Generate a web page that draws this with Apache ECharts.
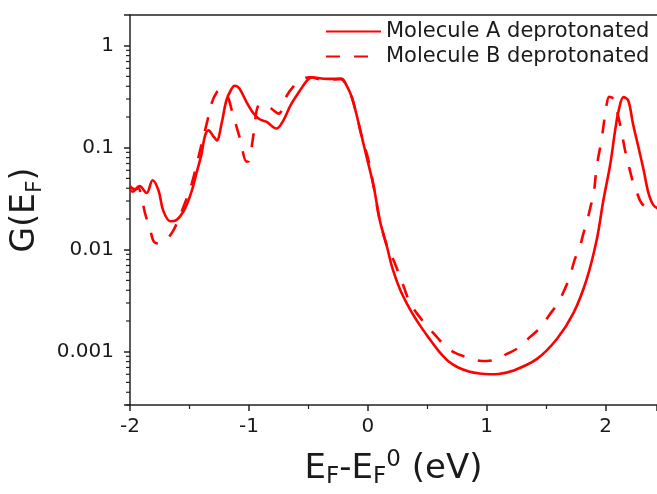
<!DOCTYPE html>
<html>
<head>
<meta charset="utf-8">
<script src="https://cdn.jsdelivr.net/npm/echarts@6/dist/echarts.min.js"></script>
<style>
  html, body { margin: 0; padding: 0; background: #fff; }
  #chart { width: 657px; height: 494px; }
</style>
</head>
<body>
<div id="chart"></div>
<script>
// Series names
const seriesNames = ['Molecule A deprotonated', 'Molecule B deprotonated'];

// Molecule A: [E_F - E_F^0 (eV), G(E_F)]
const moleculeA = [
  [-2.00, 0.039], [-1.98, 0.037], [-1.92, 0.042], [-1.86, 0.036], [-1.81, 0.048],
  [-1.76, 0.038], [-1.72, 0.024], [-1.66, 0.019], [-1.61, 0.0195], [-1.54, 0.025],
  [-1.48, 0.038], [-1.44, 0.057], [-1.40, 0.085], [-1.37, 0.13], [-1.34, 0.148],
  [-1.30, 0.13], [-1.27, 0.118], [-1.23, 0.172], [-1.19, 0.29], [-1.15, 0.37],
  [-1.12, 0.405], [-1.08, 0.38], [-1.02, 0.28], [-0.96, 0.216], [-0.91, 0.19],
  [-0.85, 0.179], [-0.77, 0.154], [-0.71, 0.185], [-0.65, 0.26], [-0.57, 0.364],
  [-0.51, 0.456], [-0.47, 0.49], [-0.37, 0.475], [-0.29, 0.473], [-0.22, 0.473],
  [-0.18, 0.41], [-0.135, 0.313], [-0.09, 0.2], [-0.05, 0.127], [-0.01, 0.081],
  [0.05, 0.0415], [0.10, 0.0196], [0.16, 0.0108], [0.21, 0.0064], [0.27, 0.0041],
  [0.355, 0.0026], [0.44, 0.0018], [0.52, 0.00133], [0.60, 0.00100], [0.68, 0.00080],
  [0.76, 0.00070], [0.85, 0.00064], [0.94, 0.00061], [1.02, 0.000600], [1.10, 0.000605],
  [1.22, 0.00065], [1.42, 0.000845], [1.59, 0.00133], [1.73, 0.0024], [1.84, 0.0051],
  [1.925, 0.0125], [1.98, 0.03], [2.04, 0.07], [2.08, 0.148], [2.11, 0.232],
  [2.15, 0.313], [2.19, 0.29], [2.23, 0.172], [2.275, 0.102], [2.32, 0.06],
  [2.36, 0.036], [2.40, 0.0275], [2.45, 0.025]
];

// Molecule B: [E_F - E_F^0 (eV), G(E_F)]
const moleculeB = [
  [-2.00, 0.042], [-1.96, 0.039], [-1.93, 0.04], [-1.90, 0.031], [-1.87, 0.022],
  [-1.83, 0.0157], [-1.80, 0.012], [-1.76, 0.0115], [-1.72, 0.0118], [-1.64, 0.0151],
  [-1.55, 0.0264], [-1.48, 0.0448], [-1.41, 0.095], [-1.355, 0.172], [-1.31, 0.28],
  [-1.27, 0.35], [-1.24, 0.37], [-1.20, 0.34], [-1.17, 0.30], [-1.14, 0.222],
  [-1.075, 0.123], [-1.02, 0.073], [-1.00, 0.074], [-0.96, 0.138], [-0.92, 0.26],
  [-0.87, 0.266], [-0.81, 0.241], [-0.75, 0.216], [-0.68, 0.325], [-0.63, 0.392],
  [-0.57, 0.456], [-0.49, 0.49], [-0.36, 0.46], [-0.23, 0.473], [-0.18, 0.41],
  [-0.135, 0.313], [-0.09, 0.2], [-0.05, 0.127], [0.0, 0.08], [0.05, 0.041],
  [0.10, 0.0196], [0.16, 0.011], [0.214, 0.008], [0.27, 0.0055], [0.30, 0.0044],
  [0.355, 0.0030], [0.41, 0.0024], [0.495, 0.0018], [0.58, 0.00140], [0.66, 0.00110],
  [0.73, 0.00098], [0.81, 0.00090], [0.90, 0.00083], [1.00, 0.00081], [1.08, 0.00084],
  [1.17, 0.00095], [1.27, 0.0011], [1.36, 0.00138], [1.45, 0.00172], [1.53, 0.00232],
  [1.60, 0.0030], [1.66, 0.0042], [1.70, 0.0055], [1.74, 0.008], [1.785, 0.0108],
  [1.81, 0.014], [1.84, 0.0182], [1.87, 0.0255], [1.90, 0.036], [1.925, 0.065],
  [1.967, 0.123], [2.003, 0.24], [2.03, 0.315], [2.065, 0.30], [2.12, 0.172],
  [2.163, 0.095], [2.19, 0.07], [2.23, 0.046], [2.26, 0.037], [2.315, 0.0275],
  [2.43, 0.0255]
];

// Axis ranges and labelled ticks
const xRange = [-2, 2.432];
const yRange = [0.0003, 2];
const yTickValues = [0.001, 0.01, 0.1, 1];
const yTickLabels = ['0.001', '0.01', '0.1', '1'];

// Minor ticks on the log axis: 2..9 x 10^k inside the range
const yMinorTicks = [];
for (let k = -4; k <= 0; k++) {
  for (let m = 2; m <= 9; m++) {
    const v = m * Math.pow(10, k);
    if (v > yRange[0] && v < yRange[1]) yMinorTicks.push(v);
  }
}

const FONT = 'DejaVu Sans';
const TEXT = '#1a1a1a';
const AXIS = '#222';
const RED = '#ff0000';

const chart = echarts.init(document.getElementById('chart'), null, { renderer: 'canvas' });

chart.setOption({
  animation: false,
  backgroundColor: '#ffffff',
  grid: { left: 130, top: 15, right: 0, bottom: 87, show: false },
  legend: {
    data: seriesNames,
    orient: 'vertical',
    left: 325, top: 19, padding: 0,
    itemWidth: 55, itemHeight: 14, itemGap: 0,
    itemStyle: { opacity: 0 },
    textStyle: { fontFamily: FONT, fontSize: 21, color: TEXT, lineHeight: 25 }
  },
  xAxis: [
    {
      type: 'value',
      min: xRange[0], max: xRange[1], interval: 1,
      name: '{n|E}{s|F}{n|-E}{s|F}{p|0}{n| (eV)}',
      nameLocation: 'middle', nameGap: 44,
      nameTextStyle: {
        fontFamily: FONT, color: TEXT,
        rich: {
          n: { fontFamily: FONT, fontSize: 34, color: TEXT, lineHeight: 40 },
          s: { fontFamily: FONT, fontSize: 23, color: TEXT, verticalAlign: 'bottom', lineHeight: 40 },
          p: { fontFamily: FONT, fontSize: 23, color: TEXT, verticalAlign: 'top', lineHeight: 36 }
        }
      },
      axisLine: { onZero: false, lineStyle: { color: AXIS, width: 1.5 } },
      axisTick: { inside: false, length: 6, lineStyle: { color: AXIS, width: 1.5 } },
      minorTick: { show: true, splitNumber: 2, length: 4, lineStyle: { color: AXIS, width: 1.2 } },
      axisLabel: { fontFamily: FONT, fontSize: 20, color: TEXT, margin: 12, showMaxLabel: false },
      splitLine: { show: false }
    },
    {
      // top frame line
      type: 'value', position: 'top',
      min: xRange[0], max: xRange[1],
      axisLine: { show: true, onZero: false, lineStyle: { color: AXIS, width: 1.5 } },
      axisTick: { show: false }, axisLabel: { show: false }, splitLine: { show: false }
    }
  ],
  yAxis: {
    type: 'log', logBase: 10,
    min: yRange[0], max: yRange[1],
    name: '{n|G(E}{s|F}{n|)}',
    nameLocation: 'middle', nameGap: 74, nameRotate: 90,
    nameTextStyle: {
      fontFamily: FONT, color: TEXT,
      rich: {
        n: { fontFamily: FONT, fontSize: 33, color: TEXT, lineHeight: 40 },
        s: { fontFamily: FONT, fontSize: 22, color: TEXT, verticalAlign: 'bottom', lineHeight: 40 }
      }
    },
    axisLine: { onZero: false, lineStyle: { color: AXIS, width: 1.5 } },
    axisTick: { inside: false, length: 6, lineStyle: { color: AXIS, width: 1.5 } },
    axisLabel: {
      fontFamily: FONT, fontSize: 20, color: TEXT, margin: 16,
      formatter: function (v) {
        for (let i = 0; i < yTickValues.length; i++) {
          if (Math.abs(Math.log10(v) - Math.log10(yTickValues[i])) < 1e-6) return yTickLabels[i];
        }
        return '';
      }
    },
    splitLine: { show: false }
  },
  series: [
    {
      name: seriesNames[0], type: 'line', data: moleculeA,
      smooth: 0.35, showSymbol: false, symbol: 'none',
      lineStyle: { color: RED, width: 2.6, type: 'solid' },
      itemStyle: { color: RED }
    },
    {
      name: seriesNames[1], type: 'line', data: moleculeB,
      smooth: 0.35, showSymbol: false, symbol: 'none',
      lineStyle: { color: RED, width: 2.6, type: [14, 14] },
      itemStyle: { color: RED }
    },
    {
      name: 'minorTicks', type: 'custom', silent: true, clip: false,
      data: yMinorTicks.map(v => [xRange[0], v]),
      renderItem: function (params, api) {
        const p = api.coord([api.value(0), api.value(1)]);
        return {
          type: 'line',
          shape: { x1: p[0] - 4, y1: p[1], x2: p[0], y2: p[1] },
          style: { stroke: AXIS, lineWidth: 1.2 }
        };
      }
    }
  ]
});
</script>
</body>
</html>
